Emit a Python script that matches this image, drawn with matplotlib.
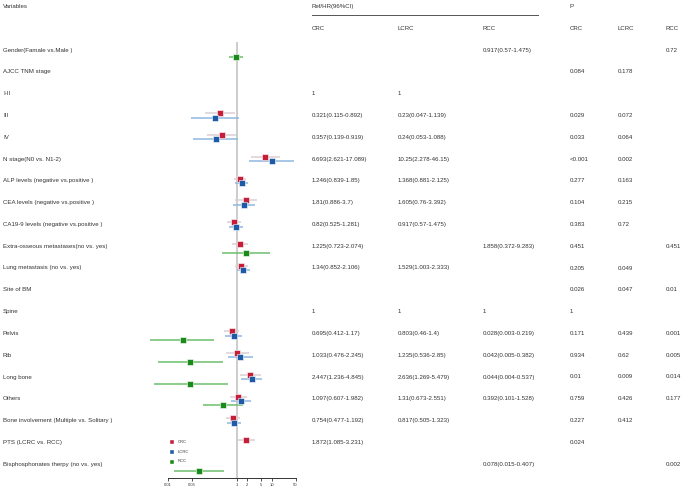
import numpy as np
import matplotlib
matplotlib.use("Agg")
import matplotlib.pyplot as plt

nan = np.nan

labels = [
    "Gender(Famale vs.Male )", "AJCC TNM stage", "I-II", "III", "IV",
    "N stage(N0 vs. N1-2)", "ALP levels (negative vs.positive )",
    "CEA levels (negative vs.positive )", "CA19-9 levels (negative vs.positive )",
    "Extra-osseous metastases(no vs. yes)", "Lung metastasis (no vs. yes)",
    "Site of BM", "Spine", "Pelvis", "Rib", "Long bone", "Others",
    "Bone involvement (Multiple vs. Solitary )", "PTS (LCRC vs. RCC)",
    "Bisphosphonates therpy (no vs. yes)",
]

# hazard ratios and 95% CI (ref rows: hr=1, no CI)
crc_hr = [nan, nan, 1, 0.321, 0.357, 6.693, 1.246, 1.81, 0.82, 1.225, 1.34, nan, 1, 0.695, 1.033, 2.447, 1.097, 0.754, 1.872, nan]
crc_lo = [nan, nan, nan, 0.115, 0.139, 2.621, 0.839, 0.886, 0.525, 0.723, 0.852, nan, nan, 0.412, 0.476, 1.236, 0.607, 0.477, 1.085, nan]
crc_hi = [nan, nan, nan, 0.892, 0.919, 17.089, 1.85, 3.7, 1.281, 2.074, 2.106, nan, nan, 1.17, 2.245, 4.845, 1.982, 1.192, 3.231, nan]

lcrc_hr = [nan, nan, 1, 0.23, 0.24, 10.25, 1.368, 1.605, 0.917, nan, 1.529, nan, 1, 0.803, 1.235, 2.636, 1.31, 0.817, nan, nan]
lcrc_lo = [nan, nan, nan, 0.047, 0.053, 2.278, 0.881, 0.76, 0.57, nan, 1.003, nan, nan, 0.46, 0.536, 1.269, 0.673, 0.505, nan, nan]
lcrc_hi = [nan, nan, nan, 1.139, 1.088, 46.15, 2.125, 3.392, 1.475, nan, 2.333, nan, nan, 1.4, 2.85, 5.479, 2.551, 1.323, nan, nan]

rcc_hr = [0.917, nan, nan, nan, nan, nan, nan, nan, nan, 1.858, nan, nan, 1, 0.028, 0.042, 0.044, 0.392, nan, nan, 0.078]
rcc_lo = [0.57, nan, nan, nan, nan, nan, nan, nan, nan, 0.372, nan, nan, nan, 0.003, 0.005, 0.004, 0.101, nan, nan, 0.015]
rcc_hi = [1.475, nan, nan, nan, nan, nan, nan, nan, nan, 9.283, nan, nan, nan, 0.219, 0.382, 0.537, 1.528, nan, nan, 0.407]

p_crc = ["", "0.084", "", "0.029", "0.033", "<0.001", "0.277", "0.104", "0.383", "0.451", "0.205", "0.026", "1", "0.171", "0.934", "0.01", "0.759", "0.227", "0.024", ""]
p_lcrc = ["", "0.178", "", "0.072", "0.064", "0.002", "0.163", "0.215", "0.72", "", "0.049", "0.047", "", "0.439", "0.62", "0.009", "0.426", "0.412", "", ""]
p_rcc = ["0.72", "", "", "", "", "", "", "", "", "0.451", "", "0.01", "", "0.001", "0.005", "0.014", "0.177", "", "", "0.002"]

groups = ["CRC", "LCRC", "RCC"]
xticks = [0.01, 0.05, 1, 2, 5, 10, 50]
xticklabels = ["0.01", "0.05", "1", "2", "5", "10", "50"]

# ---- layout -----------------------------------------------------------
W, H = 685, 491
Y0, DY = 50.0, 21.8          # pixel y of row 0 and row spacing
def k_of(py):
    return (py - Y0) / DY

TXT = "#333333"
FS = 4.4
plt.rcParams["font.family"] = ["Liberation Sans", "DejaVu Sans"]

fig = plt.figure(figsize=(W / 100, H / 100), dpi=100)
bg = fig.add_axes([0, 0, 1, 1])
bg.set_xlim(0, W)
bg.set_ylim(k_of(H), k_of(0))
bg.axis("off")

# headers
bg.text(3, -2, "Variables", fontsize=FS, color=TXT, va="center")
bg.text(312, -2, "Ref/HR(96%CI)", fontsize=FS, color=TXT, va="center")
bg.text(570, -2, "P", fontsize=FS, color=TXT, va="center")
bg.plot([312, 538], [k_of(15), k_of(15)], color="#555555", lw=0.7)
hr_x = [312, 398, 483]
p_x = [570, 618, 666]
for g, x in zip(groups, hr_x):
    bg.text(x, -1, g, fontsize=FS, color=TXT, va="center")
for g, x in zip(groups, p_x):
    bg.text(x, -1, g, fontsize=FS, color=TXT, va="center")

def fmt(h, l, u):
    if np.isnan(h):
        return ""
    if np.isnan(l):
        return f"{h:g}"
    return f"{h:g}({l:g}-{u:g})"

hr_sets = [(crc_hr, crc_lo, crc_hi), (lcrc_hr, lcrc_lo, lcrc_hi), (rcc_hr, rcc_lo, rcc_hi)]
for i, lab in enumerate(labels):
    bg.text(3, i, lab, fontsize=FS, color=TXT, va="center")
    for (h, l, u), x in zip(hr_sets, hr_x):
        s = fmt(h[i], l[i], u[i])
        if s:
            bg.text(x, i, s, fontsize=FS, color=TXT, va="center")
    for pl, x in zip([p_crc, p_lcrc, p_rcc], p_x):
        if pl[i]:
            bg.text(x, i, pl[i], fontsize=FS, color=TXT, va="center")

# ---- forest axes --------------------------------------------------------
px1, ppd = 237.0, 34.5        # pixel x of HR=1, pixels per decade
xl, xr = 0.001, 100
left = px1 + ppd * np.log10(xl)
right = px1 + ppd * np.log10(xr)
top_px, bot_px = 42, 478
ax = fig.add_axes([left / W, (H - bot_px) / H, (right - left) / W, (bot_px - top_px) / H])
ax.set_xscale("log")
ax.set_xlim(xl, xr)
ax.set_ylim(k_of(bot_px), k_of(top_px))
ax.patch.set_alpha(0)
for s in ["left", "top", "right"]:
    ax.spines[s].set_visible(False)
ax.spines["bottom"].set_bounds(0.01, 50)
ax.spines["bottom"].set_linewidth(0.7)
ax.spines["bottom"].set_color("#333333")
ax.set_yticks([])
ax.set_xticks(xticks)
ax.set_xticklabels(xticklabels)
ax.xaxis.set_minor_locator(matplotlib.ticker.NullLocator())
ax.tick_params(axis="x", length=2.2, width=0.6, labelsize=3.0, pad=1.5, colors="#333333")

ax.axvline(1, color="#cccccc", lw=1.4, zorder=0)

colors = ["#c41e3a", "#1f5aa6", "#1a8a1a"]
ci_colors = ["#dcd0d3", "#8fb8e0", "#6dbe6d"]
offsets = [-0.1, 0.1, 0.3]
rows = np.arange(len(labels))
for (h, l, u), c, cc, off in zip(hr_sets, colors, ci_colors, offsets):
    h = np.array(h); l = np.array(l); u = np.array(u)
    m = ~np.isnan(l)
    y = rows[m] + off
    ax.hlines(y, l[m], u[m], color=cc, lw=1.1, zorder=2)
    ax.plot(h[m], y, ls="none", marker="s", ms=5.0, mfc=c, mec="white", mew=0.4, zorder=3)

# legend
for g, c, py in zip(groups, colors, [442, 452, 461.5]):
    bg.plot([172], [k_of(py)], ls="none", marker="s", ms=3.4, mfc=c, mec="white", mew=0.3)
    bg.text(178, k_of(py), g, fontsize=3.0, color=TXT, va="center")

fig.savefig("out.png", dpi=100)
